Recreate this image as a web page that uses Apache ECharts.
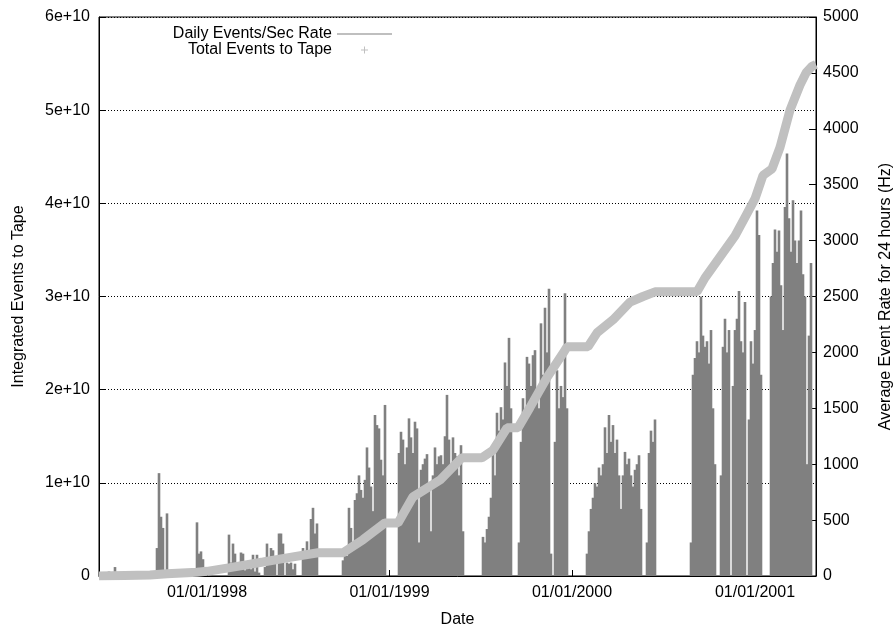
<!DOCTYPE html>
<html><head><meta charset="utf-8">
<script src="https://cdn.jsdelivr.net/npm/echarts@6/dist/echarts.min.js"></script>
<style>html,body{margin:0;padding:0;background:#fff}#c{width:895px;height:627px}</style>
</head><body><div id="c"></div>
<script>
// ---- data ----
const rateStart = '1997-05-30';
const rateStepDays = 4;
const rateHz = [
  0,0,0,0, 30,40,30,0,80,20,
  0,0,0,0,0,0,0,0,0,0,0,0,0,0,0,0,0,0,0,
  250, 920,530,430,0,560,
  0,0,0,0,0,0,0,0,0,0,0,0,0,0,
  480,200,220,150,
  0,0,0,0,0,0,0,0,0,0,0,0,
  370,120,290,200,120,60,210,200,50,80,140,60,190,40,190,30,
  0,0,
  80,290,150,250,230,120,
  0,
  380,380,290,
  0,
  120,110,120,60,110,
  0,0,0,
  250,180,310,200,510,610,380,470,
  0,0,0,0,0,0,0,0,0,0,0,0,
  140,250,180,610,430,300,680,740,900,770,700,860,1150,970,800,580,1440,1350,1320,1040,900,1530,
  0,0,0,0,0,0,
  1100,1290,1220,1000,1150,1410,1240,1100,1380,1320,300,950,1000,1050,1090,800,400,900,1150,1000,1070,1080,1000,1250,1620,1220,1000,1240,1100,1070,900,1170,400,
  0,0,0,0,0,0,0,0,0,
  350,300,420,530,700,1100,900,1460,1300,1510,1400,1910,1700,2130,1500,
  0,0,0,
  300,1200,1590,1400,1960,1900,1700,1975,2020,1600,1500,2260,1800,2400,2000,2570,200,
  0,
  1200,1840,1500,1700,1600,2530,1500,
  0,0,0,0,0,0,0,0,0,
  200,400,600,700,830,800,970,900,1000,1330,1100,1440,1200,1350,1100,1220,900,600,900,1110,1000,1050,900,800,950,1000,1080,600,
  0,0,
  300,1100,1300,1200,1400,
  0,0,0,0,0,0,0,0,0,0,0,0,0,0,0,0,0,
  300,1800,1950,2100,2000,2500,2150,2050,2100,1900,2200,1500,1000,
  0,0,
  900,2050,2300,2000,2200,
  0,
  1700,2200,2300,2550,2100,2000,2450,
  0,
  1400,2100,1900,2200,3270,3050,1800,
  0,0,0,0,
  2500,2800,3100,2900,3090,2600,2200,3300,3780,3200,2900,3360,3000,2800,3000,3270,2700,2500,1000,2150,2800,
  0,0
];
const cumDates = ['1997-05-30','1997-09-09','1997-10-13','1997-12-12','1998-01-01','1998-02-16','1998-04-23','1998-06-16','1998-08-11','1998-09-30','1998-11-09','1998-12-23','1999-01-18','1999-02-17','1999-04-12','1999-05-26','1999-07-05','1999-07-27','1999-08-24','1999-09-15','1999-10-09','1999-11-12','1999-12-14','1999-12-22','2000-02-02','2000-02-20','2000-03-23','2000-04-26','2000-05-22','2000-06-15','2000-09-07','2000-09-23','2000-10-13','2000-11-02','2000-11-22','2000-12-12','2001-01-01','2001-01-17','2001-02-04','2001-02-20','2001-03-12','2001-04-01','2001-04-13','2001-04-25','2001-05-03'];
const cumE10 = [0,0.01,0.025,0.04,0.05,0.09,0.15,0.2,0.25,0.25,0.39,0.57,0.57,0.85,1.03,1.27,1.27,1.35,1.59,1.59,1.81,2.13,2.39,2.46,2.46,2.61,2.75,2.94,3.0,3.05,3.05,3.2,3.35,3.5,3.65,3.85,4.05,4.3,4.37,4.6,5.0,5.27,5.4,5.47,5.49];
const xRange = ['1997-05-30', '2001-05-03'];
const yearTicks = ['1998-01-01','1999-01-01','2000-01-01','2001-01-01'];

// ---- helpers ----
function ts(s){const p=s.split('-').map(Number);return new Date(p[0],p[1]-1,p[2]).getTime();}
function pad(n){return (n<10?'0':'')+n;}
const st = rateStart.split('-').map(Number);
const rateData = rateHz.map((v,i)=>[new Date(st[0],st[1]-1,st[2]+rateStepDays*i).getTime(), v]);
const cumData = cumDates.map((d,i)=>[ts(d), cumE10[i]*1e10]);
const tickVals = yearTicks.map(ts);
const FF = '"Liberation Sans", Arial, Helvetica, sans-serif';
const txt = {color:'#000', fontSize:16, fontFamily:FF};

const chart = echarts.init(document.getElementById('c'), null, {renderer:'canvas'});
chart.setOption({
  animation:false,
  backgroundColor:'#fff',
  grid:{left:99, right:79, top:17, bottom:51, show:true, borderColor:'#000', borderWidth:1,
        containLabel:false, outerBoundsMode:'none'},
  legend:{
    orient:'vertical', align:'right', right:498, top:21,
    itemWidth:55, itemHeight:10, itemGap:0, selectedMode:false,
    textStyle:txt,
    data:[
      {name:'Daily Events/Sec Rate', icon:'path://M0,0M55,10M0,4.5h55v1h-55z'},
      {name:'Total Events to Tape', icon:'path://M0,0M55,10M24,4.5h7v1h-7zM27,1.5h1v7h-1z'}
    ]
  },
  xAxis:{
    type:'value', min:ts(xRange[0]), max:ts(xRange[1]),
    name:'Date', nameLocation:'middle', nameGap:36, nameTextStyle:txt,
    axisLine:{lineStyle:{color:'#000'}},
    axisTick:{inside:true, length:6, customValues:tickVals, lineStyle:{color:'#000'}},
    axisLabel:{customValues:tickVals, margin:9, ...txt,
      formatter:v=>{const d=new Date(v);return pad(d.getMonth()+1)+'/'+pad(d.getDate())+'/'+d.getFullYear();}},
    splitLine:{show:false}
  },
  yAxis:[
    {type:'value', position:'left', min:0, max:6e10, interval:1e10,
     name:'Integrated Events to Tape', nameLocation:'middle', nameGap:72, nameTextStyle:txt,
     axisLine:{show:true, lineStyle:{color:'#000'}},
     axisTick:{show:true, inside:true, length:7, lineStyle:{color:'#000'}},
     axisLabel:{margin:9, ...txt, formatter:v=>v===0?'0':(Math.round(v/1e9)/10)+'e+10'},
     splitLine:{show:true, lineStyle:{color:'#000', width:1, type:[1,2]}}},
    {type:'value', position:'right', min:0, max:5000, interval:500,
     name:'Average Event Rate for 24 hours (Hz)', nameLocation:'middle', nameGap:62, nameTextStyle:txt,
     axisLine:{show:true, lineStyle:{color:'#000'}},
     axisTick:{show:true, inside:true, length:7, lineStyle:{color:'#000'}},
     axisLabel:{margin:7, ...txt, formatter:v=>String(v)},
     splitLine:{show:false}}
  ],
  series:[
    {name:'Daily Events/Sec Rate', type:'bar', yAxisIndex:1, data:rateData, barWidth:2.6,
     itemStyle:{color:'#808080'}, z:2, silent:true},
    {name:'Total Events to Tape', type:'line', yAxisIndex:0, data:cumData, showSymbol:false,
     color:'#c0c0c0', lineStyle:{color:'#c0c0c0', width:9}, itemStyle:{color:'#c0c0c0'}, z:3, silent:true}
  ]
});
</script></body></html>
